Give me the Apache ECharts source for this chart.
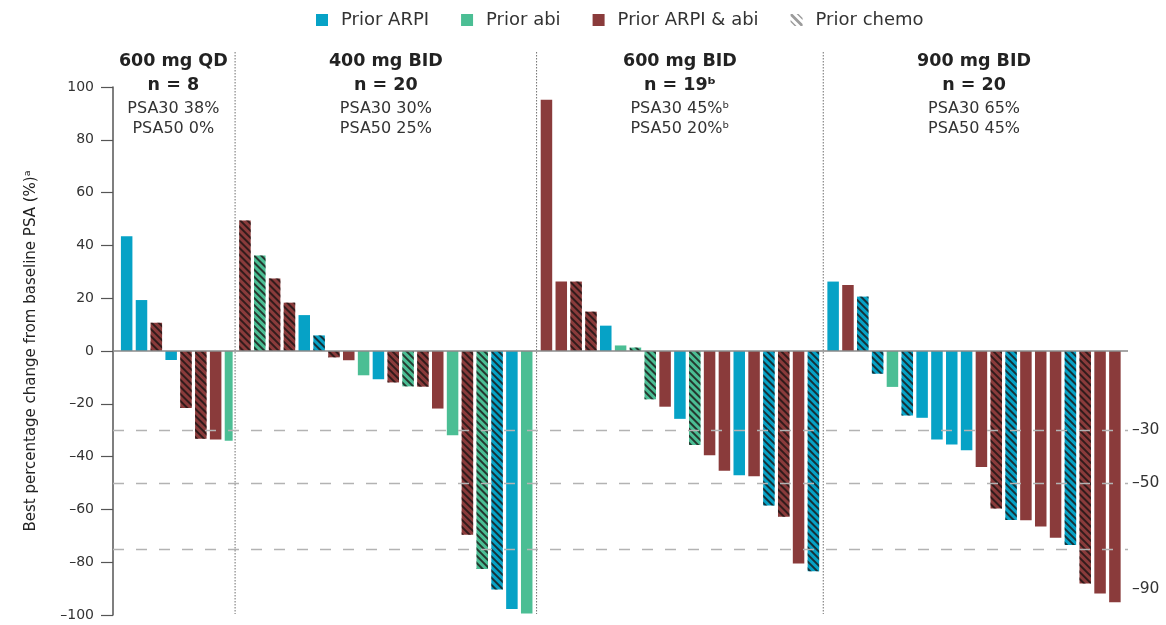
<!DOCTYPE html>
<html>
<head>
<meta charset="utf-8">
<script src="https://cdn.jsdelivr.net/npm/echarts@6/dist/echarts.min.js"></script>
<style>
  html, body { margin: 0; padding: 0; background: #fff; }
  #chart { width: 1166px; height: 625px; }
</style>
</head>
<body>
<div id="chart"></div>
<script>
// Cohort headers
const cohortTitles = ['600 mg QD', '400 mg BID', '600 mg BID', '900 mg BID'];
const cohortN = ['n = 8', 'n = 20', 'n = 19ᵇ', 'n = 20'];
const psa30Labels = ['PSA30 38%', 'PSA30 30%', 'PSA30 45%ᵇ', 'PSA30 65%'];
const psa50Labels = ['PSA50 0%', 'PSA50 25%', 'PSA50 20%ᵇ', 'PSA50 45%'];

// Best percentage change from baseline PSA, one value per patient (waterfall order)
// Prior therapy: A = prior ARPI, B = prior abi, AB = prior ARPI & abi; chemo: 1 = prior chemo
const qd600Values = [43.5, 19.3, 10.7, -3.4, -21.6, -33.2, -33.5, -34.0];
const qd600Prior  = ['A', 'A', 'AB', 'A', 'AB', 'AB', 'AB', 'B'];
const qd600Chemo  = [0, 0, 1, 0, 1, 1, 0, 0];

const bid400Values = [49.4, 36.2, 27.5, 18.3, 13.6, 5.9, -2.4, -3.5, -9.2, -10.7,
                      -11.9, -13.4, -13.5, -21.8, -31.9, -69.6, -82.6, -90.3, -97.7, -99.4];
const bid400Prior  = ['AB', 'B', 'AB', 'AB', 'A', 'A', 'AB', 'AB', 'B', 'A',
                      'AB', 'B', 'AB', 'AB', 'B', 'AB', 'B', 'A', 'A', 'B'];
const bid400Chemo  = [1, 1, 1, 1, 0, 1, 1, 0, 0, 0, 1, 1, 1, 0, 0, 1, 1, 1, 0, 0];

const bid600Values = [95.2, 26.3, 26.3, 14.9, 9.6, 2.1, 1.3, -18.3, -21.1, -25.7,
                      -35.6, -39.5, -45.4, -47.1, -47.4, -58.5, -62.8, -80.5, -83.4];
const bid600Prior  = ['AB', 'AB', 'AB', 'AB', 'A', 'B', 'B', 'B', 'AB', 'A',
                      'B', 'AB', 'AB', 'A', 'AB', 'A', 'AB', 'AB', 'A'];
const bid600Chemo  = [0, 0, 1, 1, 0, 0, 1, 1, 0, 0, 1, 0, 0, 0, 0, 1, 1, 0, 1];

const bid900Values = [26.3, 25.0, 20.6, -8.6, -13.6, -24.4, -25.3, -33.5, -35.4, -37.6,
                      -43.9, -59.7, -64.0, -64.1, -66.5, -70.7, -73.5, -88.1, -91.9, -95.2];
const bid900Prior  = ['A', 'AB', 'A', 'A', 'B', 'A', 'A', 'A', 'A', 'A',
                      'AB', 'AB', 'A', 'AB', 'AB', 'AB', 'A', 'AB', 'AB', 'AB'];
const bid900Chemo  = [0, 0, 1, 1, 0, 1, 0, 0, 0, 0, 0, 1, 1, 0, 0, 0, 1, 1, 0, 0];

// Response thresholds drawn as reference lines, and the labels on the right
const thresholdLines = [-30, -50, -75];
const rightLabels = [-30, -50, -90];
const yTitle = 'Best percentage change from baseline PSA (%)ᵃ';

const cohorts = [
  { values: qd600Values, prior: qd600Prior, chemo: qd600Chemo },
  { values: bid400Values, prior: bid400Prior, chemo: bid400Chemo },
  { values: bid600Values, prior: bid600Prior, chemo: bid600Chemo },
  { values: bid900Values, prior: bid900Prior, chemo: bid900Chemo }
];

const PRIOR_KEYS = ['A', 'B', 'AB'];
const PRIOR_NAMES = { A: 'Prior ARPI', B: 'Prior abi', AB: 'Prior ARPI & abi' };
const PRIOR_COLORS = { A: '#06A2C6', B: '#4BBE94', AB: '#8A3B3B' };
const FONT = 'DejaVu Sans';

// Diagonal hatching for patients with prior chemotherapy
const HATCH = {
  symbol: 'rect', symbolSize: 1,
  dashArrayX: [1, 0], dashArrayY: [1.5, 2.6],
  rotation: Math.PI / 4,
  color: 'rgba(25,18,18,0.78)'
};
const HATCH_ICON = 'path://M0,0L2,0L12,10L12,12L10,12L0,2Z M0,6L0,8L4,12L6,12Z M6,0L8,0L12,4L12,6Z';

// Layout: one grid per cohort, equal slot width for every bar
const SLOT = 14.83, GAP = 4.9, PLOT_LEFT = 114, TOP = 87, BOTTOM = 10;
const AXIS_LEFT = 113, AXIS_RIGHT = 1128, W = 1166;

const grids = [], xAxes = [], yAxes = [], series = [], graphics = [];
const centers = [], separators = [];
let cursor = PLOT_LEFT;

cohorts.forEach((c, i) => {
  const w = c.values.length * SLOT;
  grids.push({ left: cursor, top: TOP, bottom: BOTTOM, width: w });
  centers.push(cursor + w / 2);
  if (i > 0) separators.push(cursor - GAP / 2);
  cursor += w + GAP;

  xAxes.push({
    type: 'category', gridIndex: i, show: false,
    data: c.values.map((_, k) => String(k + 1))
  });
  yAxes.push({ type: 'value', gridIndex: i, min: -100, max: 100, show: false });

  PRIOR_KEYS.forEach(key => {
    series.push({
      type: 'bar', name: PRIOR_NAMES[key],
      xAxisIndex: i, yAxisIndex: i,
      barWidth: 11.5, barGap: '-100%',
      itemStyle: { color: PRIOR_COLORS[key] },
      emphasis: { disabled: true },
      data: c.values.map((v, k) => {
        if (c.prior[k] !== key) return '-';
        return c.chemo[k] ? { value: v, itemStyle: { decal: HATCH } } : v;
      })
    });
  });
});

// Full-width background grid: left value axis, right threshold labels, reference lines
const BG = cohorts.length;
grids.push({ left: AXIS_LEFT, right: W - AXIS_RIGHT, top: TOP, bottom: BOTTOM });
xAxes.push({ type: 'value', gridIndex: BG, min: 0, max: 1, show: false });
const minus = v => (v < 0 ? '\u2013' + (-v) : String(v));
yAxes.push({
  type: 'value', gridIndex: BG, position: 'left',
  min: -100, max: 100, interval: 20,
  name: yTitle, nameLocation: 'middle', nameGap: 74,
  nameTextStyle: { fontFamily: FONT, fontSize: 15, color: '#222' },
  axisLine: { show: true, lineStyle: { color: '#555', width: 1.5 } },
  axisTick: { show: true, length: 12, lineStyle: { color: '#555', width: 1.2 } },
  axisLabel: { margin: 19, fontFamily: FONT, fontSize: 14, color: '#333', formatter: minus },
  splitLine: { show: false }
});
yAxes.push({
  type: 'value', gridIndex: BG, position: 'right',
  min: -100, max: 100, interval: 10,
  axisLine: { show: false }, axisTick: { show: false }, splitLine: { show: false },
  axisLabel: {
    margin: 4, fontFamily: FONT, fontSize: 15.5, color: '#333',
    formatter: v => (rightLabels.includes(v) ? minus(v) : '')
  }
});
series.push({
  type: 'line', name: 'reference', xAxisIndex: BG, yAxisIndex: BG + 0,
  data: [], silent: true, z: 5,
  markLine: {
    silent: true, symbol: ['none', 'none'], label: { show: false },
    lineStyle: { type: [11, 12], color: '#b3b3b3', width: 1.3 },
    data: [{ yAxis: 0, lineStyle: { type: 'solid', color: '#8a8a8a', width: 1.5 } }]
      .concat(thresholdLines.map(t => ({ yAxis: t })))
  }
});
// Legend entry for prior chemotherapy (hatching)
series.push({
  type: 'bar', name: 'Prior chemo', xAxisIndex: 0, yAxisIndex: 0,
  data: [], itemStyle: { color: '#9c9c9c' }
});

// Cohort headers
const headerLines = [
  { texts: cohortTitles, y: 61, size: 17.5, weight: 'bold', color: '#222' },
  { texts: cohortN, y: 85, size: 17.5, weight: 'bold', color: '#222' },
  { texts: psa30Labels, y: 109, size: 16, weight: 'normal', color: '#333' },
  { texts: psa50Labels, y: 129, size: 16, weight: 'normal', color: '#333' }
];
headerLines.forEach(line => {
  line.texts.forEach((t, i) => {
    graphics.push({
      type: 'text', x: centers[i], y: line.y, silent: true,
      style: {
        text: t, fontFamily: FONT, fontSize: line.size, fontWeight: line.weight,
        fill: line.color, align: 'center', verticalAlign: 'middle',
        textAlign: 'center', textVerticalAlign: 'middle'
      }
    });
  });
});

// Dotted separators between cohorts
separators.forEach(x => {
  graphics.push({
    type: 'line', silent: true,
    shape: { x1: x, y1: 52, x2: x, y2: 614 },
    style: { stroke: '#6f6f6f', lineWidth: 1, lineDash: [1.5, 1.5] }
  });
});

const chart = echarts.init(document.getElementById('chart'), null, { renderer: 'canvas' });
chart.setOption({
  animation: false,
  backgroundColor: '#fff',
  textStyle: { fontFamily: FONT },
  legend: {
    top: 6, left: 311, itemWidth: 12, itemHeight: 12, itemGap: 32,
    icon: 'rect', selectedMode: false,
    textStyle: { fontFamily: FONT, fontSize: 18, color: '#333', padding: [0, 0, 0, 8] },
    data: [
      PRIOR_NAMES.A, PRIOR_NAMES.B, PRIOR_NAMES.AB,
      { name: 'Prior chemo', icon: HATCH_ICON }
    ]
  },
  grid: grids,
  xAxis: xAxes,
  yAxis: yAxes,
  series: series,
  graphic: graphics
});
</script>
</body>
</html>
